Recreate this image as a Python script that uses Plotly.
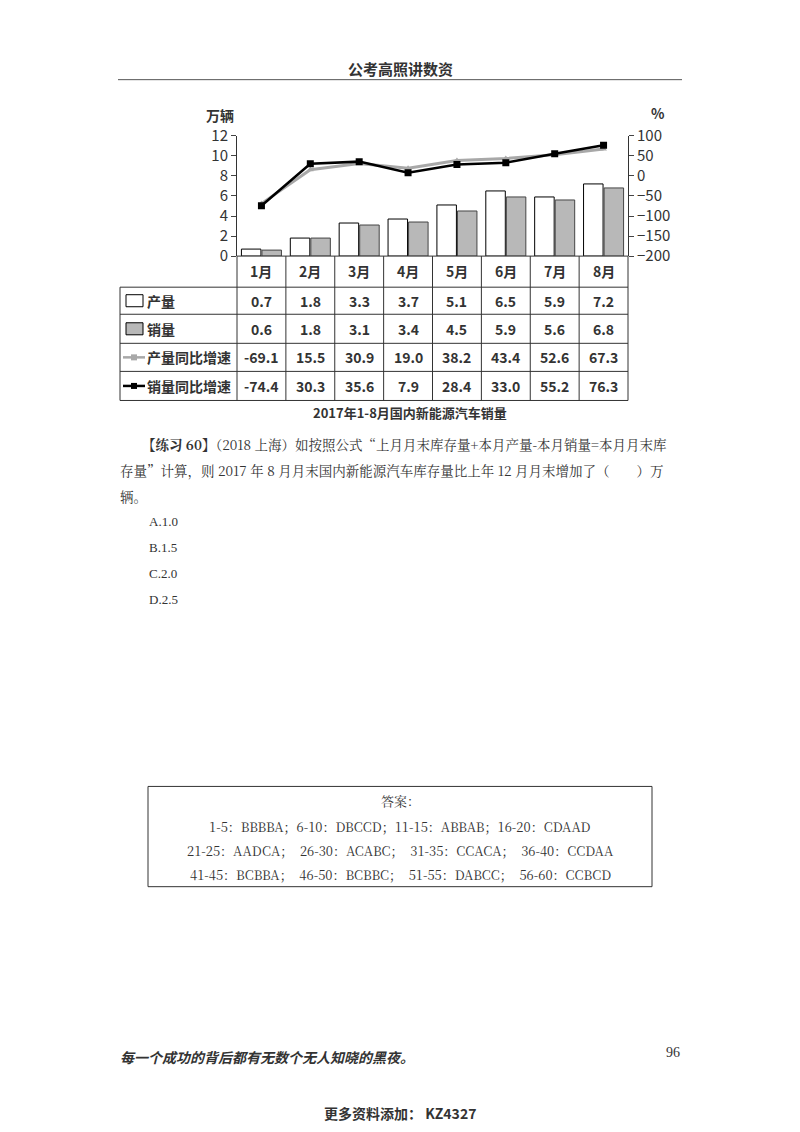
import plotly.graph_objects as go

W, H = 800, 1132
months = ["1月", "2月", "3月", "4月", "5月", "6月", "7月", "8月"]
production = [0.7, 1.8, 3.3, 3.7, 5.1, 6.5, 5.9, 7.2]
sales = [0.6, 1.8, 3.1, 3.4, 4.5, 5.9, 5.6, 6.8]
prod_growth = [-69.1, 15.5, 30.9, 19.0, 38.2, 43.4, 52.6, 67.3]
sales_growth = [-74.4, 30.3, 35.6, 7.9, 28.4, 33.0, 55.2, 76.3]
row_labels = ["产量", "销量", "产量同比增速", "销量同比增速"]
left_ticks = [0, 2, 4, 6, 8, 10, 12]
right_ticks = [-200, -150, -100, -50, 0, 50, 100]

def px(x): return x / W
def py(y):
    y = (y - 12.5) / 0.979
    return 1 - y / H

X0, X1, YT, YB = 237, 628, 136, 256
CW = (X1 - X0) / 8
FONT = "Noto Sans CJK SC"
TC = "#333333"

fig = go.Figure()
fig.add_bar(x=months, y=production, marker=dict(color="white", line=dict(color="black", width=1)), name="产量")
fig.add_bar(x=months, y=sales, marker=dict(color="#b8b8b8", line=dict(color="#444", width=1)), name="销量")
fig.add_scatter(x=months, y=prod_growth, yaxis="y2", mode="lines+markers",
                line=dict(color="#a8a8a8", width=3), marker=dict(symbol="triangle-up", size=6, color="#a8a8a8"))
fig.add_scatter(x=months, y=sales_growth, yaxis="y2", mode="lines+markers",
                line=dict(color="black", width=2.5), marker=dict(symbol="square", size=7, color="black"))

shapes, ann = [], []
def line(x0, y0, x1, y1, w=1, c="#333"):
    shapes.append(dict(type="line", xref="paper", yref="paper", x0=px(x0), y0=py(y0), x1=px(x1), y1=py(y1), line=dict(color=c, width=w)))
def text(x, y, t, size=13, anchor="center", bold=False, color=TC, font=FONT, italic=False):
    if bold: t = "<b>" + t + "</b>"
    if italic: t = "<i>" + t + "</i>"
    ann.append(dict(xref="paper", yref="paper", x=px(x), y=py(y), text=t, showarrow=False,
                    xanchor=anchor, yanchor="middle", font=dict(size=size, color=color, family=font)))

rows_y = [256, 287, 314, 343, 371, 400]
for i, y in enumerate(rows_y):
    line(X0 if i == 0 else 120, y, X1, y)
for k in range(9):
    line(X0 + k * CW, 256, X0 + k * CW, 400)
line(120, 287, 120, 400)
for k, m in enumerate(months):
    cx = X0 + (k + 0.5) * CW
    text(cx, 271, m, 14, bold=True)
    for r, arr in enumerate([production, sales, prod_growth, sales_growth]):
        text(cx, (rows_y[r + 1] + rows_y[r + 2]) / 2, f"{arr[k]:.1f}", 14, bold=True)
for r, lab in enumerate(row_labels):
    cy = (rows_y[r + 1] + rows_y[r + 2]) / 2
    text(145, cy, lab, 14, anchor="left", bold=True)
    if r < 2:
        shapes.append(dict(type="rect", xref="paper", yref="paper", x0=px(126), x1=px(143), y0=py(cy - 6), y1=py(cy + 6),
                           fillcolor="white" if r == 0 else "#b8b8b8", line=dict(color="black", width=1)))
    else:
        line(123, cy, 145, cy, 2.5, "#a8a8a8" if r == 2 else "black")
        shapes.append(dict(type="rect", xref="paper", yref="paper", x0=px(131), x1=px(137), y0=py(cy - 3), y1=py(cy + 3),
                           fillcolor="#a8a8a8" if r == 2 else "black", line=dict(width=0)))
text(220, 115, "万辆", 14, bold=True)
text(658, 113, "%", 14, bold=True)
text(410, 412, "2017年1-8月国内新能源汽车销量", 13, bold=True)

text(400, 69, "公考高照讲数资", 15, bold=True)
line(118, 80, 682, 80, 1, "#555")
SF = "Noto Serif CJK SC, Noto Sans CJK SC"
text(140, 443, "<b>【练习 60】</b>（2018 上海）如按照公式“上月月末库存量+本月产量-本月销量=本月月末库", 13.5, anchor="left", font=SF)
text(118, 469, "存量”计算，则 2017 年 8 月月末国内新能源汽车库存量比上年 12 月月末增加了（　　）万", 13.5, anchor="left", font=SF)
text(118, 495, "辆。", 13.5, anchor="left", font=SF)
for i, o in enumerate(["A.1.0", "B.1.5", "C.2.0", "D.2.5"]):
    text(147, 521 + 26 * i, o, 13, anchor="left", font="Liberation Serif")
shapes.append(dict(type="rect", xref="paper", yref="paper", x0=px(148), x1=px(652), y0=py(785), y1=py(885),
                   line=dict(color="#333", width=1)))
text(400, 799, "答案：", 13, font=SF)
ans = ["1-5：BBBBA；6-10：DBCCD；11-15：ABBAB；16-20：CDAAD",
       "21-25：AADCA；  26-30：ACABC；  31-35：CCACA；  36-40：CCDAA",
       "41-45：BCBBA；  46-50：BCBBC；  51-55：DABCC；  56-60：CCBCD"]
for i, a in enumerate(ans):
    text(400, 825 + 24 * i, a, 13, font=SF)
text(118, 1055, "每一个成功的背后都有无数个无人知晓的黑夜。", 14, anchor="left", bold=True, italic=True)
text(682, 1050, "96", 14, anchor="right", font="Liberation Serif")
text(400, 1111, "更多资料添加： KZ4327", 14, bold=True)

axfont = dict(size=15, color=TC, family=FONT)
fig.update_layout(
    width=W, height=H, margin=dict(l=0, r=0, t=0, b=0), paper_bgcolor="white", plot_bgcolor="white",
    showlegend=False, barmode="group", bargap=0.16, bargroupgap=0.05,
    xaxis=dict(domain=[px(X0), px(X1)], showticklabels=False, showline=False, ticks=""),
    yaxis=dict(domain=[py(YB), py(YT)], range=[0, 12], tickvals=left_ticks, showgrid=False,
               showline=True, linecolor="#333", ticks="outside", ticklen=5, tickfont=axfont, zeroline=False),
    yaxis2=dict(overlaying="y", side="right", range=[-200, 100], tickvals=right_ticks, showgrid=False,
                showline=True, linecolor="#333", ticks="outside", ticklen=5, tickfont=axfont, zeroline=False),
    shapes=shapes, annotations=ann,
)
fig.write_html("out.html", config={"displayModeBar": False},
               post_script="document.body.style.margin='0';document.body.style.overflow='hidden';")
